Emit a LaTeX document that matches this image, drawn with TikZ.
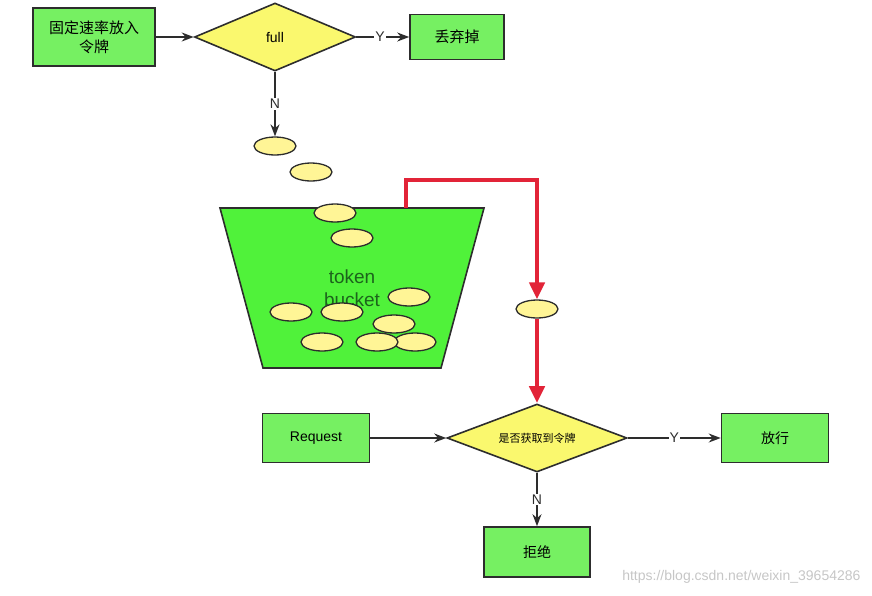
\documentclass[tikz,border=0pt]{standalone}
\usepackage{fontspec}
\setmainfont{Liberation Sans}
\newfontfamily\cjk{Noto Sans CJK SC}
\usetikzlibrary{shapes.geometric,arrows.meta}

\definecolor{boxgreen}{RGB}{118,240,98}
\definecolor{bucketgreen}{RGB}{80,242,58}
\definecolor{askyellow}{RGB}{250,248,110}
\definecolor{tokyellow}{RGB}{255,245,150}
\definecolor{edgegray}{RGB}{45,45,45}
\definecolor{pathred}{RGB}{226,36,56}
\definecolor{labelgreen}{RGB}{28,100,28}

\tikzset{
  stepbox/.style={draw=edgegray,line width=1.6pt,fill=boxgreen,align=center,inner sep=0pt,
    font=\cjk\fontsize{15}{19}\selectfont},
  askbox/.style={diamond,draw=edgegray,line width=1.6pt,fill=askyellow,inner sep=0pt},
  tok/.style={ellipse,draw=edgegray,line width=1.3pt,fill=tokyellow,inner sep=0pt,
    minimum width=42pt,minimum height=18pt},
  flow/.style={draw=edgegray,line width=1.6pt,-{Stealth[length=12pt,width=9pt]}},
  yn/.style={fill=white,inner sep=1pt,text=edgegray,font=\fontsize{14}{16}\selectfont},
  redline/.style={draw=pathred,line width=4.5pt}
}

\begin{document}
\begin{tikzpicture}[x=1pt,y=-1pt]
\useasboundingbox (0,0) rectangle (872,595);

\node[stepbox,minimum width=122pt,minimum height=58pt] (rate) at (94,37) {固定速率放入\\令牌};
\node[askbox,minimum width=161pt,minimum height=68pt,
  label={[font=\fontsize{14}{16}\selectfont]center:full}] (full) at (275,37) {};
\node[stepbox,minimum width=94pt,minimum height=45pt] (drop) at (457,37) {丢弃掉};

\draw[flow] (rate) -- (full);
\draw[flow] (full) -- (drop) node[yn,pos=.45] {Y};

\node[tok] (t1) at (275,146) {};
\node[tok] (t2) at (311,172) {};

\draw[flow] (full) -- (t1) node[yn,pos=.5] {N};

\coordinate (bA) at (220,208);
\coordinate (bB) at (484,208);
\coordinate (bC) at (441,368);
\coordinate (bD) at (263,368);
\draw[draw=edgegray,line width=1.6pt,fill=bucketgreen] (bA) -- (bB) -- (bC) -- (bD) -- cycle;

\node[text=labelgreen,align=center,inner sep=0pt,font=\fontsize{19}{23}\selectfont] (lbl) at (352,288) {token\\bucket};

\node[tok] (t3) at (335,213) {};
\node[tok] (t4) at (352,238) {};
\node[tok] (t5) at (409,297) {};
\node[tok] (t6) at (291,312) {};
\node[tok] (t7) at (342,312) {};
\node[tok] (t8) at (415,342) {};
\node[tok] (t9) at (394,324) {};
\node[tok] (t10) at (322,342) {};
\node[tok] (t11) at (377,342) {};

\coordinate (tap) at (406,208);
\node[tok] (out) at (537,309) {};
\draw[redline,-{Triangle[length=17pt,width=15pt]}] (tap) -- ++(0,-28) -| (out.north);

\node[askbox,minimum width=180pt,minimum height=68pt,
  label={[font=\cjk\fontsize{11}{13}\selectfont]center:是否获取到令牌}] (ask) at (537,438) {};
\draw[redline,-{Triangle[length=17pt,width=15pt]}] (out.south) -- (ask.north);

\node[stepbox,minimum width=107pt,minimum height=49pt,font=\fontsize{14}{17}\selectfont] (req) at (316,438) {Request};
\node[stepbox,minimum width=107pt,minimum height=49pt,font=\cjk\fontsize{14}{17}\selectfont] (pass) at (775,438) {放行};
\node[stepbox,minimum width=106pt,minimum height=50pt,font=\cjk\fontsize{14}{17}\selectfont] (deny) at (537,552) {拒绝};

\draw[flow] (req) -- (ask);
\draw[flow] (ask) -- (pass) node[yn,pos=.5] {Y};
\draw[flow] (ask) -- (deny) node[yn,pos=.5] {N};

\node[anchor=east,text=gray!45,font=\fontsize{14}{16}\selectfont] (mark) at (864,577) {https://blog.csdn.net/weixin\_39654286};

\end{tikzpicture}
\end{document}
